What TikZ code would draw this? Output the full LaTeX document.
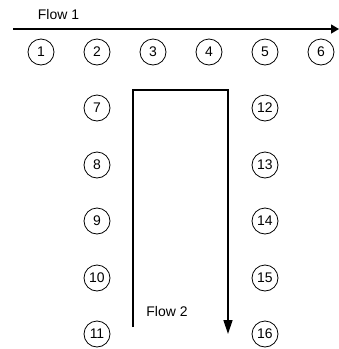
\documentclass[tikz,border=0pt]{standalone}
\usepackage{fontspec}
\setmainfont{Liberation Sans}
\usetikzlibrary{arrows.meta}
\begin{document}
\begin{tikzpicture}[x=1bp,y=-1bp,
  cnode/.style={draw,circle,minimum size=26bp,inner sep=0pt,line width=0.8bp,font=\fontsize{14}{16}\selectfont},
  flowline/.style={line width=1.4bp},
  lbl/.style={font=\fontsize{14}{16}\selectfont,inner sep=0pt}]
\useasboundingbox (0,0) rectangle (339,349);
% top row
\foreach \i/\x in {1/41,2/97,3/153,4/209,5/265,6/321}
  \node[cnode] (n\i) at (\x,52) {\i};
% left column
\foreach \i/\y in {7/108,8/165,9/221,10/278,11/334}
  \node[cnode] (n\i) at (97,\y) {\i};
% right column
\foreach \i/\y in {12/108,13/165,14/221,15/278,16/334}
  \node[cnode] (n\i) at (265,\y) {\i};
% Flow 1
\node[lbl] (f1) at (58.5,15) {Flow 1};
\coordinate (f1s) at (13,29);
\coordinate (f1e) at (339,29);
\draw[flowline,-{Triangle[length=8bp,width=9bp]}] (f1s) -- (f1e);
% Flow 2
\node[lbl] (f2) at (167,312) {Flow 2};
\coordinate (a) at (133,327);
\coordinate (b) at (133,90);
\coordinate (c) at (228,90);
\coordinate (d) at (228,334);
\draw[flowline,-{Triangle[length=14bp,width=9bp]}] (a) -- (b) -- (c) -- (d);
\end{tikzpicture}
\end{document}
